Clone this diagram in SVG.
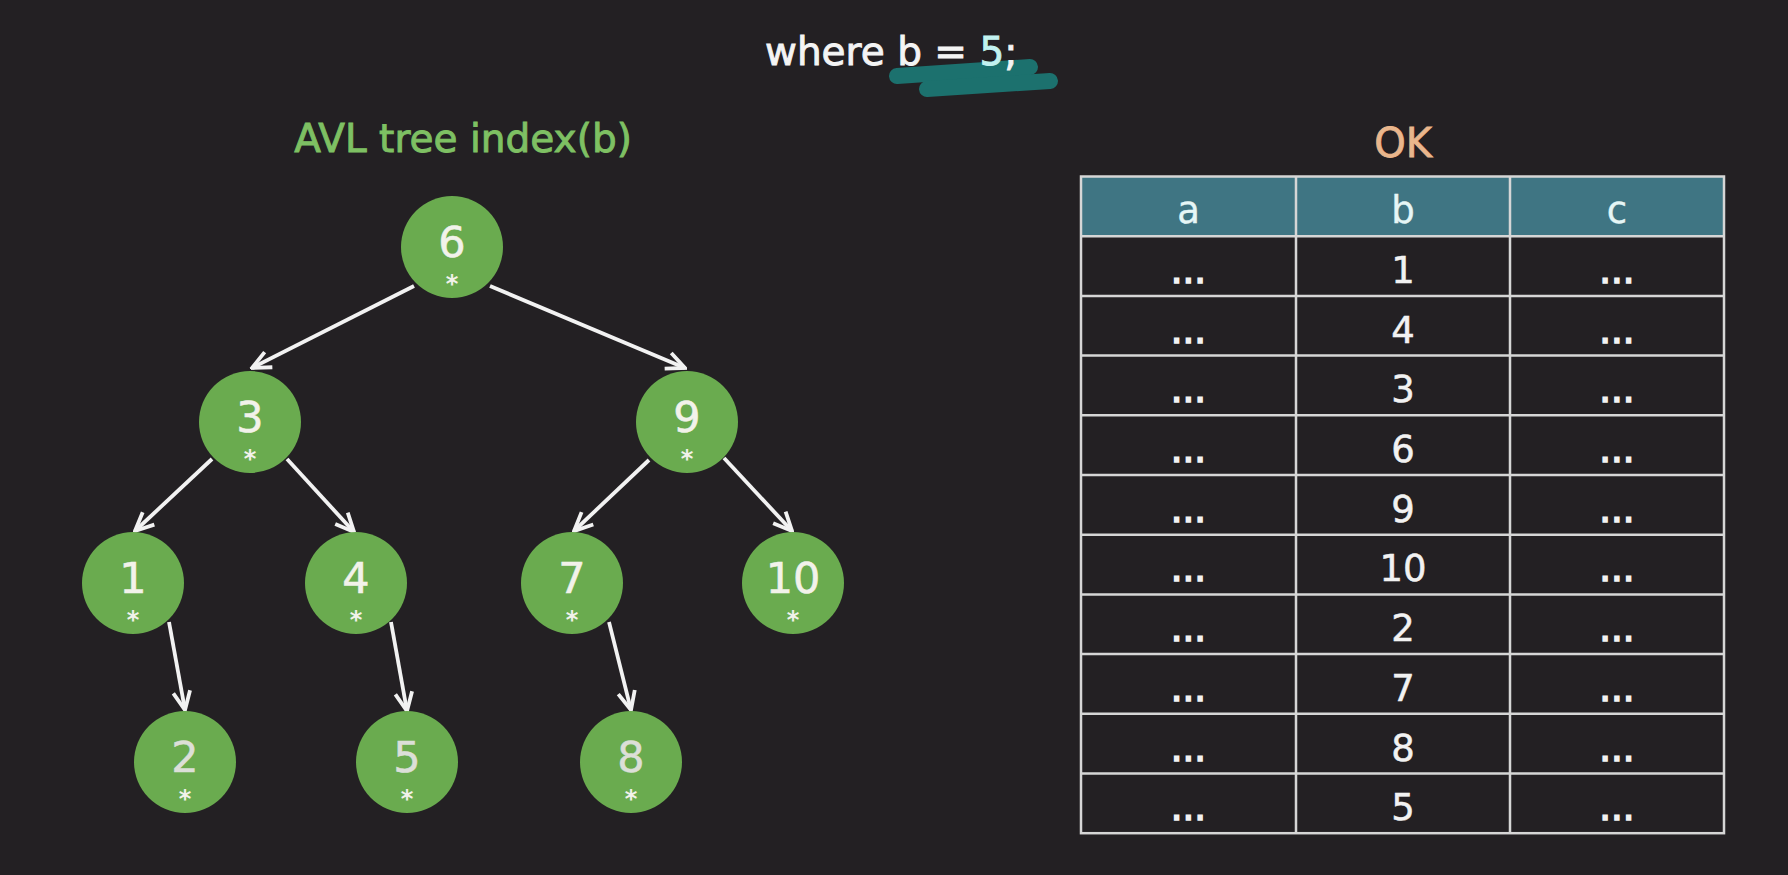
<svg xmlns="http://www.w3.org/2000/svg" width="1788" height="875" viewBox="0 0 1788 875">
<defs>
<style>
.t{font-family:"DejaVu Sans","Liberation Sans",sans-serif;}
.num{font-size:43px;fill:#f2f2ea;stroke:#f2f2ea;stroke-width:0.6;text-anchor:middle;}
.num2{fill:#dcdfd8;stroke:#dcdfd8;}
.ast{font-size:24px;font-weight:bold;fill:#f2f2ea;text-anchor:middle;}
.node{fill:#6aab4f;}
.edge{stroke:#f2f2f2;stroke-width:3.8;fill:none;marker-end:url(#arr);}
.cell{font-size:37px;fill:#f2f2f2;stroke:#f2f2f2;stroke-width:0.5;text-anchor:middle;}
.dots{stroke-width:1.6;}
.hdr{font-size:37px;fill:#e6f6f6;stroke:#e6f6f6;stroke-width:0.4;text-anchor:middle;}
.grid{stroke:#d6d6d6;stroke-width:2.5;fill:none;}
</style>
<marker id="arr" viewBox="0 0 22 22" refX="20" refY="11" markerWidth="22" markerHeight="22" markerUnits="userSpaceOnUse" orient="auto">
<path d="M1.5,2.5 L20,11 L1.5,19.5" fill="none" stroke="#f2f2f2" stroke-width="3.8" stroke-linejoin="miter"/>
</marker>
</defs>
<rect width="1788" height="875" fill="#232023"/>

<g id="title">
<line x1="897" y1="76" x2="1030" y2="67" stroke="#1c716e" stroke-width="16" stroke-linecap="round"/>
<line x1="927" y1="89" x2="1050" y2="81" stroke="#1c716e" stroke-width="16" stroke-linecap="round"/>
<text class="t" x="765" y="65" font-size="39" fill="#f4f4f4" stroke="#f4f4f4" stroke-width="0.9">where b = <tspan fill="#c2f2f0" stroke="#c2f2f0">5</tspan>;</text>
</g>

<text id="avl-title" class="t" x="463" y="152" font-size="39" fill="#7ec063" stroke="#7ec063" stroke-width="0.9" text-anchor="middle">AVL tree index(b)</text>
<text id="ok-title" class="t" x="1403" y="157" font-size="40" fill="#eab68c" stroke="#eab68c" stroke-width="0.8" text-anchor="middle">OK</text>

<g id="connectors">
<line class="edge" x1="414" y1="286" x2="252" y2="368"/>
<line class="edge" x1="490" y1="286" x2="685" y2="368"/>
<line class="edge" x1="212" y1="459" x2="135" y2="531"/>
<line class="edge" x1="287" y1="459" x2="354" y2="532"/>
<line class="edge" x1="649" y1="460" x2="574" y2="531"/>
<line class="edge" x1="724" y1="458" x2="792" y2="531"/>
<line class="edge" x1="169" y1="622" x2="185" y2="710"/>
<line class="edge" x1="391" y1="622" x2="407" y2="711"/>
<line class="edge" x1="609" y1="622" x2="631" y2="710"/>
</g>

<g id="node-6"><circle class="node" cx="452" cy="247" r="51"/><text class="t num" x="452" y="257">6</text><text class="t ast" x="452" y="292">*</text></g>
<g id="node-3"><circle class="node" cx="250" cy="422" r="51"/><text class="t num" x="250" y="432">3</text><text class="t ast" x="250" y="467">*</text></g>
<g id="node-9"><circle class="node" cx="687" cy="422" r="51"/><text class="t num" x="687" y="432">9</text><text class="t ast" x="687" y="467">*</text></g>
<g id="node-1"><circle class="node" cx="133" cy="583" r="51"/><text class="t num" x="133" y="593">1</text><text class="t ast" x="133" y="628">*</text></g>
<g id="node-4"><circle class="node" cx="356" cy="583" r="51"/><text class="t num" x="356" y="593">4</text><text class="t ast" x="356" y="628">*</text></g>
<g id="node-7"><circle class="node" cx="572" cy="583" r="51"/><text class="t num" x="572" y="593">7</text><text class="t ast" x="572" y="628">*</text></g>
<g id="node-10"><circle class="node" cx="793" cy="583" r="51"/><text class="t num" x="793" y="593">10</text><text class="t ast" x="793" y="628">*</text></g>
<g id="node-2"><circle class="node" cx="185" cy="762" r="51"/><text class="t num num2" x="185" y="772">2</text><text class="t ast" x="185" y="807">*</text></g>
<g id="node-5"><circle class="node" cx="407" cy="762" r="51"/><text class="t num num2" x="407" y="772">5</text><text class="t ast" x="407" y="807">*</text></g>
<g id="node-8"><circle class="node" cx="631" cy="762" r="51"/><text class="t num num2" x="631" y="772">8</text><text class="t ast" x="631" y="807">*</text></g>

<g id="table">
<rect x="1081" y="176.5" width="643" height="59.7" fill="#3f7583"/>
<rect class="grid" x="1081" y="176.5" width="643" height="656.7"/>
<path class="grid" d="M1296,176.5V833.2 M1510,176.5V833.2 M1081,236.2H1724 M1081,295.9H1724 M1081,355.6H1724 M1081,415.3H1724 M1081,475H1724 M1081,534.7H1724 M1081,594.4H1724 M1081,654.1H1724 M1081,713.8H1724 M1081,773.5H1724"/>
<text class="t hdr" x="1188.5" y="223">a</text>
<text class="t hdr" x="1403" y="223">b</text>
<text class="t hdr" x="1617" y="223">c</text>
<g class="t cell">
<text class="dots" x="1188.5" y="283">...</text><text x="1403" y="283">1</text><text class="dots" x="1617" y="283">...</text>
<text class="dots" x="1188.5" y="342.6">...</text><text x="1403" y="342.6">4</text><text class="dots" x="1617" y="342.6">...</text>
<text class="dots" x="1188.5" y="402.3">...</text><text x="1403" y="402.3">3</text><text class="dots" x="1617" y="402.3">...</text>
<text class="dots" x="1188.5" y="462">...</text><text x="1403" y="462">6</text><text class="dots" x="1617" y="462">...</text>
<text class="dots" x="1188.5" y="521.7">...</text><text x="1403" y="521.7">9</text><text class="dots" x="1617" y="521.7">...</text>
<text class="dots" x="1188.5" y="581.4">...</text><text x="1403" y="581.4">10</text><text class="dots" x="1617" y="581.4">...</text>
<text class="dots" x="1188.5" y="641.1">...</text><text x="1403" y="641.1">2</text><text class="dots" x="1617" y="641.1">...</text>
<text class="dots" x="1188.5" y="700.8">...</text><text x="1403" y="700.8">7</text><text class="dots" x="1617" y="700.8">...</text>
<text class="dots" x="1188.5" y="760.5">...</text><text x="1403" y="760.5">8</text><text class="dots" x="1617" y="760.5">...</text>
<text class="dots" x="1188.5" y="820.2">...</text><text x="1403" y="820.2">5</text><text class="dots" x="1617" y="820.2">...</text>
</g>
</g>
</svg>
